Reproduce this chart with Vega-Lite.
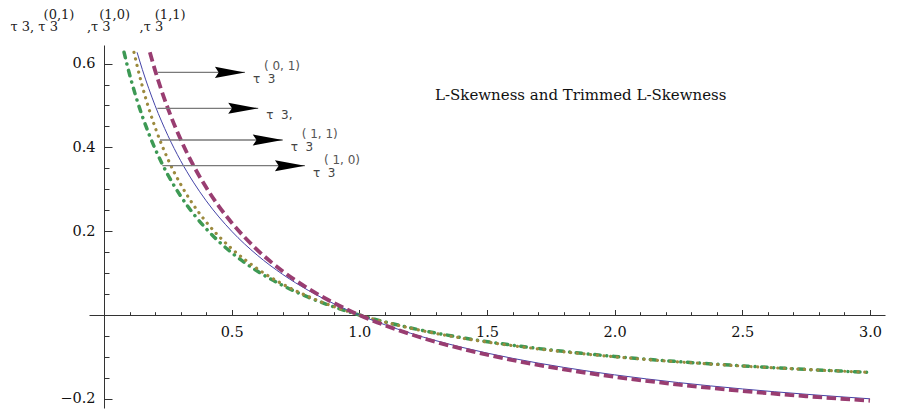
{
  "$schema": "https://vega.github.io/schema/vega-lite/v6.json",
  "width": 796,
  "height": 363,
  "autosize": {"type": "none"},
  "padding": {"left": 89, "top": 45, "right": 16, "bottom": 1},
  "background": "white",
  "config": {"view": {"stroke": null}, "font": "DejaVu Serif", "title": {"font": "DejaVu Serif"}},
  "title": {
    "text": "L-Skewness and Trimmed L-Skewness",
    "anchor": "start", "frame": "group", "dx": 346, "dy": 107,
    "baseline": "alphabetic", "offset": 0,
    "font": "DejaVu Serif", "fontSize": 15, "fontWeight": "normal", "color": "#111"
  },
  "resolve": {"axis": {"x": "independent", "y": "independent"}},
  "datasets": {
    "curves": [
      {"s": "t10", "x": 0.0785, "y": 0.627}, {"s": "t10", "x": 0.09, "y": 0.5981}, {"s": "t10", "x": 0.1, "y": 0.5746}, {"s": "t10", "x": 0.125, "y": 0.5212}, {"s": "t10", "x": 0.15, "y": 0.4746}, {"s": "t10", "x": 0.175, "y": 0.4334}, {"s": "t10", "x": 0.2, "y": 0.3969}, {"s": "t10", "x": 0.25, "y": 0.3347}, {"s": "t10", "x": 0.3, "y": 0.284}, {"s": "t10", "x": 0.35, "y": 0.2416}, {"s": "t10", "x": 0.4, "y": 0.2059}, {"s": "t10", "x": 0.5, "y": 0.1486}, {"s": "t10", "x": 0.6, "y": 0.1049}, {"s": "t10", "x": 0.7, "y": 0.0704}, {"s": "t10", "x": 0.8, "y": 0.0424}, {"s": "t10", "x": 0.9, "y": 0.0194}, {"s": "t10", "x": 1.0, "y": 0.0}, {"s": "t10", "x": 1.2, "y": -0.0307}, {"s": "t10", "x": 1.4, "y": -0.054}, {"s": "t10", "x": 1.6, "y": -0.0722}, {"s": "t10", "x": 1.8, "y": -0.0869}, {"s": "t10", "x": 2.0, "y": -0.099}, {"s": "t10", "x": 2.25, "y": -0.1113}, {"s": "t10", "x": 2.5, "y": -0.1214}, {"s": "t10", "x": 2.75, "y": -0.1299}, {"s": "t10", "x": 3.0, "y": -0.137},
      {"s": "t11", "x": 0.1174, "y": 0.627}, {"s": "t11", "x": 0.13, "y": 0.5939}, {"s": "t11", "x": 0.15, "y": 0.5461}, {"s": "t11", "x": 0.175, "y": 0.4937}, {"s": "t11", "x": 0.2, "y": 0.4481}, {"s": "t11", "x": 0.25, "y": 0.3723}, {"s": "t11", "x": 0.3, "y": 0.3121}, {"s": "t11", "x": 0.35, "y": 0.2629}, {"s": "t11", "x": 0.4, "y": 0.2222}, {"s": "t11", "x": 0.5, "y": 0.1583}, {"s": "t11", "x": 0.6, "y": 0.1106}, {"s": "t11", "x": 0.7, "y": 0.0736}, {"s": "t11", "x": 0.8, "y": 0.0441}, {"s": "t11", "x": 0.9, "y": 0.02}, {"s": "t11", "x": 1.0, "y": 0.0}, {"s": "t11", "x": 1.2, "y": -0.0314}, {"s": "t11", "x": 1.4, "y": -0.055}, {"s": "t11", "x": 1.6, "y": -0.0732}, {"s": "t11", "x": 1.8, "y": -0.0878}, {"s": "t11", "x": 2.0, "y": -0.0998}, {"s": "t11", "x": 2.25, "y": -0.1119}, {"s": "t11", "x": 2.5, "y": -0.1218}, {"s": "t11", "x": 2.75, "y": -0.13}, {"s": "t11", "x": 3.0, "y": -0.137},
      {"s": "t3", "x": 0.1295, "y": 0.627}, {"s": "t3", "x": 0.15, "y": 0.5862}, {"s": "t3", "x": 0.175, "y": 0.541}, {"s": "t3", "x": 0.2, "y": 0.5}, {"s": "t3", "x": 0.25, "y": 0.4286}, {"s": "t3", "x": 0.3, "y": 0.3684}, {"s": "t3", "x": 0.35, "y": 0.3171}, {"s": "t3", "x": 0.4, "y": 0.2727}, {"s": "t3", "x": 0.5, "y": 0.2}, {"s": "t3", "x": 0.6, "y": 0.1429}, {"s": "t3", "x": 0.7, "y": 0.0968}, {"s": "t3", "x": 0.8, "y": 0.0588}, {"s": "t3", "x": 0.9, "y": 0.027}, {"s": "t3", "x": 1.0, "y": 0.0}, {"s": "t3", "x": 1.2, "y": -0.0435}, {"s": "t3", "x": 1.4, "y": -0.0769}, {"s": "t3", "x": 1.6, "y": -0.1034}, {"s": "t3", "x": 1.8, "y": -0.125}, {"s": "t3", "x": 2.0, "y": -0.1429}, {"s": "t3", "x": 2.25, "y": -0.1613}, {"s": "t3", "x": 2.5, "y": -0.1765}, {"s": "t3", "x": 2.75, "y": -0.1892}, {"s": "t3", "x": 3.0, "y": -0.2},
      {"s": "t01", "x": 0.1795, "y": 0.627}, {"s": "t01", "x": 0.2, "y": 0.5839}, {"s": "t01", "x": 0.225, "y": 0.5363}, {"s": "t01", "x": 0.25, "y": 0.4934}, {"s": "t01", "x": 0.3, "y": 0.4192}, {"s": "t01", "x": 0.35, "y": 0.3571}, {"s": "t01", "x": 0.4, "y": 0.3046}, {"s": "t01", "x": 0.45, "y": 0.2594}, {"s": "t01", "x": 0.5, "y": 0.2203}, {"s": "t01", "x": 0.6, "y": 0.1556}, {"s": "t01", "x": 0.7, "y": 0.1045}, {"s": "t01", "x": 0.8, "y": 0.0631}, {"s": "t01", "x": 0.9, "y": 0.0288}, {"s": "t01", "x": 1.0, "y": 0.0}, {"s": "t01", "x": 1.2, "y": -0.0458}, {"s": "t01", "x": 1.4, "y": -0.0805}, {"s": "t01", "x": 1.6, "y": -0.1077}, {"s": "t01", "x": 1.8, "y": -0.1297}, {"s": "t01", "x": 2.0, "y": -0.1477}, {"s": "t01", "x": 2.25, "y": -0.1662}, {"s": "t01", "x": 2.5, "y": -0.1814}, {"s": "t01", "x": 2.75, "y": -0.194}, {"s": "t01", "x": 3.0, "y": -0.2047}
    ],
    "arrows": [
      {"xs": 0.21, "x": 0.552, "y": 0.579, "base": "τ\u00a0\u00a03", "sup": "(\u00a00,\u00a01)"},
      {"xs": 0.209, "x": 0.604, "y": 0.4933, "base": "τ\u00a0\u00a03,", "sup": ""},
      {"xs": 0.219, "x": 0.7, "y": 0.4177, "base": "τ\u00a0\u00a03", "sup": "(\u00a01,\u00a01)"},
      {"xs": 0.2285, "x": 0.787, "y": 0.3563, "base": "τ\u00a0\u00a03", "sup": "(\u00a01,\u00a00)"}
    ]
  },
  "layer": [
    {
      "data": {"name": "curves"},
      "transform": [{"filter": "datum.s == 't10'"}],
      "mark": {"type": "line", "interpolate": "monotone", "color": "#3D9954", "strokeWidth": 3.5, "strokeCap": "round", "strokeDash": [5.5, 6.5, 0.1, 6.5]},
      "encoding": {
        "x": {"field": "x", "type": "quantitative",
          "scale": {"domain": [-0.0588, 3.059], "nice": false, "zero": false},
          "axis": {"orient": "bottom", "offset": -93, "grid": false, "title": null,
            "values": [0.5, 1.0, 1.5, 2.0, 2.5, 3.0],
            "format": ".1f",
            "tickSize": -5.5,
            "tickColor": "#333", "domainColor": "#333", "tickWidth": 1, "domainWidth": 1,
            "labelFont": "DejaVu Serif", "labelFontSize": 14.5, "labelColor": "#111", "labelPadding": 15.5,
            "labelOverlap": false, "labelFlush": false}},
        "y": {"field": "y", "type": "quantitative",
          "scale": {"domain": [-0.222, 0.6444], "nice": false, "zero": false},
          "axis": {"orient": "left", "offset": -15, "grid": false,
            "values": [-0.2, 0.2, 0.4, 0.6],
            "format": ".1f",
            "tickSize": -8,
            "tickColor": "#333", "domainColor": "#333", "tickWidth": 1, "domainWidth": 1,
            "labelFont": "DejaVu Serif", "labelFontSize": 14.5, "labelColor": "#111", "labelPadding": 17,
            "labelOverlap": false, "labelFlush": false,
            "title": ["\u200b\u00a0\u00a0\u00a0\u00a0\u00a0\u00a0\u00a0\u00a0(0,1)\u00a0\u00a0\u00a0\u00a0\u00a0\u00a0(1,0)\u00a0\u00a0\u00a0\u00a0\u00a0\u00a0(1,1)", "τ\u00a03,\u00a0τ\u00a03\u00a0\u00a0\u00a0\u00a0\u00a0\u00a0\u00a0,τ\u00a03\u00a0\u00a0\u00a0\u00a0\u00a0\u00a0\u00a0,τ\u00a03"],
            "titleAngle": 0, "titleAlign": "left", "titleBaseline": "alphabetic",
            "titleX": -94, "titleY": -27, "titleLineHeight": 12.5,
            "titleFont": "DejaVu Serif", "titleFontSize": 13, "titleFontWeight": "normal", "titleColor": "#222"}}
      }
    },
    {
      "data": {"name": "curves"},
      "transform": [{"filter": "datum.s == 't11'"}],
      "mark": {"type": "line", "interpolate": "monotone", "color": "#9C8A3E", "strokeWidth": 3.2, "strokeCap": "round", "strokeDash": [0.1, 6.6]},
      "encoding": {
        "x": {"field": "x", "type": "quantitative",
          "axis": {"orient": "bottom", "offset": -93, "grid": false, "title": null, "domain": false, "labels": false,
            "values": [0.1,0.2,0.3,0.4,0.6,0.7,0.8,0.9,1.1,1.2,1.3,1.4,1.6,1.7,1.8,1.9,2.1,2.2,2.3,2.4,2.6,2.7,2.8,2.9],
            "tickSize": -3.3, "tickColor": "#333", "tickWidth": 1}},
        "y": {"field": "y", "type": "quantitative",
          "axis": {"orient": "left", "offset": -15, "grid": false, "title": null, "domain": false, "labels": false,
            "values": [-0.15,-0.1,-0.05,0.05,0.1,0.15,0.25,0.3,0.35,0.45,0.5,0.55],
            "tickSize": -5, "tickColor": "#333", "tickWidth": 1}}
      }
    },
    {
      "data": {"name": "curves"},
      "transform": [{"filter": "datum.s == 't3'"}],
      "mark": {"type": "line", "interpolate": "monotone", "color": "#4444A8", "strokeWidth": 1},
      "encoding": {"x": {"field": "x", "type": "quantitative", "axis": null}, "y": {"field": "y", "type": "quantitative", "axis": null}}
    },
    {
      "data": {"name": "curves"},
      "transform": [{"filter": "datum.s == 't01'"}],
      "mark": {"type": "line", "interpolate": "monotone", "color": "#993D71", "strokeWidth": 3.8, "strokeDash": [9.5, 4.5]},
      "encoding": {"x": {"field": "x", "type": "quantitative", "axis": null}, "y": {"field": "y", "type": "quantitative", "axis": null}}
    },
    {
      "data": {"name": "arrows"},
      "mark": {"type": "rule", "color": "#7a7a7a", "strokeWidth": 1.3},
      "encoding": {"x": {"field": "xs", "type": "quantitative", "axis": null}, "x2": {"field": "x"}, "y": {"field": "y", "type": "quantitative", "axis": null}}
    },
    {
      "data": {"name": "arrows"},
      "mark": {"type": "point", "shape": "M-1,-0.37L1,0L-1,0.37L-0.75,0Z", "size": 900, "filled": true, "color": "#000", "opacity": 1, "xOffset": -15},
      "encoding": {"x": {"field": "x", "type": "quantitative", "axis": null}, "y": {"field": "y", "type": "quantitative", "axis": null}}
    },
    {
      "data": {"name": "arrows"},
      "mark": {"type": "text", "align": "left", "baseline": "alphabetic", "dx": 8, "dy": 11, "font": "DejaVu Sans", "fontSize": 12, "color": "#444"},
      "encoding": {"x": {"field": "x", "type": "quantitative", "axis": null}, "y": {"field": "y", "type": "quantitative", "axis": null}, "text": {"field": "base"}}
    },
    {
      "data": {"name": "arrows"},
      "mark": {"type": "text", "align": "left", "baseline": "alphabetic", "dx": 19, "dy": -2, "font": "DejaVu Sans", "fontSize": 12, "color": "#555"},
      "encoding": {"x": {"field": "x", "type": "quantitative", "axis": null}, "y": {"field": "y", "type": "quantitative", "axis": null}, "text": {"field": "sup"}}
    }
  ]
}
